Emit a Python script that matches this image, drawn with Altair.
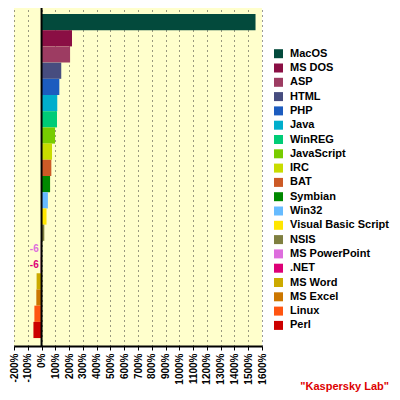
import altair as alt
import pandas as pd

categories = ["MacOS", "MS DOS", "ASP", "HTML", "PHP", "Java", "WinREG", "JavaScript",
              "IRC", "BAT", "Symbian", "Win32", "Visual Basic Script", "NSIS",
              "MS PowerPoint", ".NET", "MS Word", "MS Excel", "Linux", "Perl"]
values = [1553, 221, 207, 143, 129, 114, 112, 98, 76, 71, 62, 46, 36, 20,
          -6, -6, -36, -38, -52, -59]
colors = ["#034a3c", "#8a0f44", "#9d3c62", "#474d7f", "#1c5cbf", "#00aecc", "#00cc77",
          "#77cc00", "#c8dc00", "#cc5a26", "#008800", "#66bbff", "#ffe600", "#7f7f40",
          "#dd6ddd", "#dd0077", "#ccaa00", "#cc7700", "#ff5511", "#cc0000"]
tick_values = list(range(-200, 1700, 100))

df = pd.DataFrame({"category": categories, "value": values})
FONT = "Liberation Sans"

legend = alt.Legend(
    title=None, orient="none", legendX=259, legendY=40.2,
    symbolType="square", symbolSize=81, symbolStrokeWidth=0,
    labelFont=FONT, labelFontSize=11, labelFontWeight="bold", labelColor="black",
    labelOffset=6, rowPadding=2.3,
)
color_scale = alt.Scale(domain=categories, range=colors)

x_axis = alt.Axis(
    title=None, values=tick_values, labelExpr="datum.value + '%'",
    labelAngle=-90, labelFont=FONT, labelFontSize=10, labelFontWeight="bold",
    labelColor="black", labelPadding=3, labelOverlap=False, labelFlush=False,
    labelBound=False, tickColor="black", tickSize=4,
    domainColor="black", domainWidth=2, grid=True, gridColor="#333333",
    gridDash=[1, 4], gridWidth=1,
)
x_scale = alt.Scale(domain=[-200, 1600], nice=False, zero=False)
y_scale = alt.Scale(paddingInner=0, paddingOuter=0.43, align=0.43)


def xe(field):
    return alt.X(field, scale=x_scale, axis=x_axis)


def ye():
    return alt.Y("category:N", sort=categories, axis=None, scale=y_scale)


bars = alt.Chart(df).mark_bar().encode(
    x=xe("value:Q"), y=ye(),
    color=alt.Color("category:N", scale=color_scale, legend=legend),
)

labels = alt.Chart(df).transform_filter("abs(datum.value) < 10").transform_calculate(
    label="'' + datum.value"
).mark_text(
    align="right", baseline="middle", dx=-2, font=FONT, fontSize=10, fontWeight="bold"
).encode(
    x=xe("value:Q"), y=ye(), text="label:N",
    color=alt.Color("category:N", scale=color_scale, legend=legend),
)

zero = alt.Chart(df).transform_aggregate(n="count()").transform_calculate(
    z="0"
).mark_rule(color="black", strokeWidth=2).encode(x=xe("z:Q"))

chart = alt.layer(bars, labels, zero).properties(
    width=248, height=338,
    autosize=alt.AutoSizeParams(type="none"),
    padding={"left": 6, "top": 0, "right": 130, "bottom": 46},
    background="white",
    title=alt.TitleParams('"Kaspersky Lab"', orient="bottom", anchor="end", frame="bounds",
                          color="#dd0000", font=FONT, fontSize=11, fontWeight="bold",
                          offset=-3),
).configure_view(fill="#ffffcc", strokeWidth=0)

chart.save("out.html", embed_options={"renderer": "svg", "actions": False})
